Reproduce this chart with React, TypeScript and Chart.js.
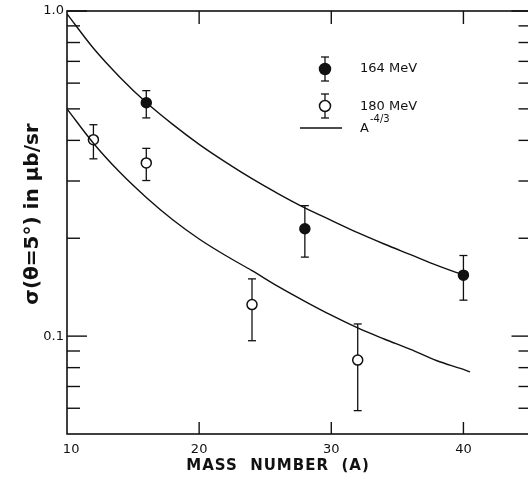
import React, { useEffect, useRef } from "react";
import { Chart, registerables } from "chart.js";
Chart.register(...registerables);

// 164 MeV (filled circles)
const MASS_164 = [16, 28, 40];
const SIGMA_164 = [0.522, 0.214, 0.154];
const ERR_LO_164 = [0.469, 0.175, 0.129];
const ERR_HI_164 = [0.569, 0.252, 0.177];

// 180 MeV (open circles)
const MASS_180 = [12, 16, 24, 32];
const SIGMA_180 = [0.402, 0.341, 0.125, 0.0844];
const ERR_LO_180 = [0.351, 0.301, 0.0968, 0.059];
const ERR_HI_180 = [0.447, 0.378, 0.15, 0.109];

// A^-4/3 curves
const CURVE_A_UPPER = [10, 12, 14, 16, 18, 20, 22, 24, 26, 28, 30, 32, 34, 36, 38, 40];
const CURVE_UPPER = [0.98, 0.768, 0.626, 0.523, 0.448, 0.389, 0.343, 0.305, 0.274, 0.248, 0.227, 0.208, 0.192, 0.178, 0.165, 0.154];
const CURVE_A_LOWER = [10, 12, 14, 16, 18, 20, 22, 24, 26, 28, 30, 32, 34, 36, 38, 40, 40.5];
const CURVE_LOWER = [0.5, 0.392, 0.319, 0.267, 0.228, 0.199, 0.177, 0.159, 0.142, 0.128, 0.116, 0.106, 0.098, 0.091, 0.084, 0.079, 0.0776];

const X_TICKS = [10, 20, 30, 40];
const X_INNER_TICKS = [20, 30, 40];
const Y_MAJOR = [0.1, 1.0];
const Y_MINOR = [0.06, 0.07, 0.08, 0.09, 0.2, 0.3, 0.4, 0.5, 0.6, 0.7, 0.8, 0.9];

const X_MIN = 10;
const X_MAX = 45;
const Y_MIN = 0.05;
const Y_MAX = 1.0;

const FONT = "'DejaVu Sans', sans-serif";

const framePlugin = {
  id: "frame",
  beforeDatasetsDraw(chart: any) {
    const { ctx, chartArea: a, scales } = chart;
    const xs = scales.x;
    const ys = scales.y;
    ctx.save();
    ctx.strokeStyle = "#111";
    ctx.lineWidth = 1.6;
    ctx.strokeRect(a.left, a.top, a.right - a.left, a.bottom - a.top);
    ctx.lineWidth = 1.4;
    const tick = (x1: number, y1: number, x2: number, y2: number) => {
      ctx.beginPath();
      ctx.moveTo(x1, y1);
      ctx.lineTo(x2, y2);
      ctx.stroke();
    };
    Y_MINOR.forEach((v) => {
      const y = ys.getPixelForValue(v);
      tick(a.left, y, a.left + 13, y);
      tick(a.right, y, a.right - 11, y);
    });
    Y_MAJOR.forEach((v) => {
      const y = ys.getPixelForValue(v);
      tick(a.left, y, a.left + 20, y);
      tick(a.right, y, a.right - 18, y);
    });
    X_INNER_TICKS.forEach((v) => {
      const x = xs.getPixelForValue(v);
      tick(x, a.bottom, x, a.bottom - 12);
      tick(x, a.top, x, a.top + 13);
    });

    // error bars
    ctx.lineWidth = 1.3;
    const bars = (mass: number[], lo: number[], hi: number[]) => {
      mass.forEach((m, i) => {
        const x = xs.getPixelForValue(m);
        const y1 = ys.getPixelForValue(lo[i]);
        const y2 = ys.getPixelForValue(hi[i]);
        tick(x, y1, x, y2);
        tick(x - 4, y1, x + 4, y1);
        tick(x - 4, y2, x + 4, y2);
      });
    };
    bars(MASS_164, ERR_LO_164, ERR_HI_164);
    bars(MASS_180, ERR_LO_180, ERR_HI_180);
    ctx.restore();
  },
  afterDraw(chart: any) {
    const { ctx } = chart;
    ctx.save();
    ctx.strokeStyle = "#111";
    ctx.fillStyle = "#111";
    ctx.lineWidth = 1.3;
    const line = (x1: number, y1: number, x2: number, y2: number) => {
      ctx.beginPath();
      ctx.moveTo(x1, y1);
      ctx.lineTo(x2, y2);
      ctx.stroke();
    };
    const icon = (cx: number, cy: number, filled: boolean) => {
      line(cx, cy - 12, cx, cy + 12);
      line(cx - 4, cy - 12, cx + 4, cy - 12);
      line(cx - 4, cy + 12, cx + 4, cy + 12);
      ctx.beginPath();
      ctx.arc(cx, cy, 5.5, 0, Math.PI * 2);
      ctx.fillStyle = filled ? "#111" : "#fff";
      ctx.fill();
      ctx.lineWidth = 1.5;
      ctx.stroke();
      ctx.lineWidth = 1.3;
      ctx.fillStyle = "#111";
    };
    icon(325, 69, true);
    icon(325, 106, false);
    line(300, 128, 342, 128);
    ctx.font = `13px ${FONT}`;
    ctx.textBaseline = "middle";
    ctx.textAlign = "left";
    ctx.fillText("164 MeV", 360, 69);
    ctx.fillText("180 MeV", 360, 107);
    ctx.fillText("A", 360, 129);
    ctx.font = `10px ${FONT}`;
    ctx.fillText("-4/3", 370, 119);

    // x title
    ctx.font = `bold 15px ${FONT}`;
    (ctx as any).letterSpacing = "1px";
    ctx.textAlign = "center";
    ctx.fillText("MASS  NUMBER  (A)", 278, 466);
    (ctx as any).letterSpacing = "0px";

    // y title
    ctx.translate(33, 214);
    ctx.rotate(-Math.PI / 2);
    ctx.font = `bold 20px ${FONT}`;
    ctx.fillText("σ(θ=5°) in μb/sr", 0, 0);
    ctx.restore();
  },
};

export default function App() {
  const ref = useRef<HTMLCanvasElement>(null);
  useEffect(() => {
    if (!ref.current) return;
    const chart = new Chart(ref.current, {
      type: "scatter",
      data: {
        datasets: [
          {
            label: "upper",
            data: CURVE_A_UPPER.map((a, i) => ({ x: a, y: CURVE_UPPER[i] })),
            showLine: true,
            pointRadius: 0,
            borderColor: "#111",
            borderWidth: 1.4,
            cubicInterpolationMode: "monotone",
          } as any,
          {
            label: "lower",
            data: CURVE_A_LOWER.map((a, i) => ({ x: a, y: CURVE_LOWER[i] })),
            showLine: true,
            pointRadius: 0,
            borderColor: "#111",
            borderWidth: 1.4,
            cubicInterpolationMode: "monotone",
          } as any,
          {
            label: "164 MeV",
            data: MASS_164.map((a, i) => ({ x: a, y: SIGMA_164[i] })),
            pointRadius: 5,
            pointBackgroundColor: "#111",
            pointBorderColor: "#111",
            pointBorderWidth: 1.5,
          },
          {
            label: "180 MeV",
            data: MASS_180.map((a, i) => ({ x: a, y: SIGMA_180[i] })),
            pointRadius: 5,
            pointBackgroundColor: "#fff",
            pointBorderColor: "#111",
            pointBorderWidth: 1.5,
          },
        ],
      },
      options: {
        responsive: false,
        animation: false,
        layout: { padding: { top: 11, right: 5, left: 0, bottom: 0 } },
        plugins: { legend: { display: false }, tooltip: { enabled: false } },
        scales: {
          x: {
            type: "linear",
            min: X_MIN,
            max: X_MAX,
            grid: { display: false },
            border: { display: false },
            afterBuildTicks: (s: any) => {
              s.ticks = X_TICKS.map((v) => ({ value: v }));
            },
            afterFit: (s: any) => {
              s.height = 49;
            },
            ticks: {
              color: "#111",
              padding: 0,
              maxRotation: 0,
              autoSkip: false,
              font: { family: FONT, size: 13 },
              callback: (v: any) => (v === 10 ? "  10" : String(v)),
            },
          },
          y: {
            type: "logarithmic",
            min: Y_MIN,
            max: Y_MAX,
            grid: { display: false },
            border: { display: false },
            afterBuildTicks: (s: any) => {
              s.ticks = Y_MAJOR.map((v) => ({ value: v }));
            },
            afterFit: (s: any) => {
              s.width = 67;
            },
            ticks: {
              color: "#111",
              padding: -5,
              autoSkip: false,
              font: { family: FONT, size: 13 },
              callback: (v: any) => Number(v).toFixed(1),
            },
          },
        },
      },
      plugins: [framePlugin],
    });
    return () => chart.destroy();
  }, []);
  return (
    <div style={{ position: "absolute", left: 0, top: 0, width: 528, height: 483, overflow: "hidden", background: "#fff" }}>
      <canvas ref={ref} width={536} height={483} style={{ display: "block" }} />
    </div>
  );
}
